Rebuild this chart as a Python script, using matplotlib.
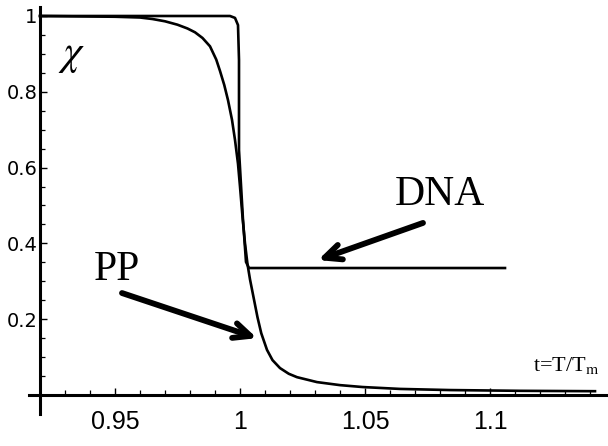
#!/usr/bin/env python3
"""
Melting curves chi(t) for DNA and PP, t = T/Tm.
"""

import matplotlib
matplotlib.use("Agg")
import matplotlib.pyplot as plt
from matplotlib.ticker import FixedLocator

# PP curve
pp_t = [0.92, 0.95, 0.96, 0.965, 0.97, 0.975, 0.979, 0.982, 0.985, 0.988,
        0.9905, 0.992, 0.9937, 0.9952, 0.9968, 0.998, 0.9992, 1.0, 1.001,
        1.002, 1.003, 1.004, 1.0055, 1.007, 1.0085, 1.0108, 1.013, 1.016,
        1.0195, 1.0228, 1.0308, 1.04, 1.049, 1.064, 1.084, 1.112, 1.142]
pp_chi = [1.0, 0.998, 0.996, 0.992, 0.986, 0.977, 0.967, 0.957, 0.942, 0.92,
          0.885, 0.855, 0.818, 0.778, 0.726, 0.673, 0.61, 0.55, 0.47,
          0.40, 0.345, 0.305, 0.255, 0.205, 0.163, 0.119, 0.092, 0.071,
          0.056, 0.047, 0.034, 0.026, 0.021, 0.016, 0.013, 0.011, 0.010]

# DNA curve: sharp drop then plateau
dna_t = [0.92, 0.996, 0.998, 0.9992, 0.9996, 0.9996, 1.0012, 1.0024, 1.0036, 1.106]
dna_chi = [1.0, 1.0, 0.995, 0.976, 0.884, 0.646, 0.462, 0.351, 0.335, 0.335]

x_ticks = [0.95, 1.0, 1.05, 1.1]
x_tick_labels = ["0.95", "1", "1.05", "1.1"]
x_minor = [0.93 + 0.01 * i for i in range(22)]
y_ticks = [0.2, 0.4, 0.6, 0.8, 1.0]
y_tick_labels = ["0.2", "0.4", "0.6", "0.8", "1"]
y_minor = [0.05 * i for i in range(1, 20)]

SERIF = "Liberation Serif"
plt.rcParams["mathtext.fontset"] = "stix"


def main():
    fig = plt.figure(figsize=(6.08, 4.46), dpi=100)
    ax = fig.add_axes([0, 0, 1, 1])

    ax.plot(pp_t, pp_chi, color="black", lw=1.9, solid_joinstyle="round")
    ax.plot(dna_t, dna_chi, color="black", lw=1.9, solid_joinstyle="round")

    ax.set_xlim(0.904, 1.1472)
    ax.set_ylim(-0.1346, 1.0422)

    # Mathematica-like crossing axes
    for side in ("top", "right"):
        ax.spines[side].set_visible(False)
    ax.spines["left"].set_position(("data", 0.92))
    ax.spines["bottom"].set_position(("data", 0.0))
    ax.spines["left"].set_bounds(-0.05, 1.025)
    ax.spines["bottom"].set_bounds(0.9156, 1.1472)
    ax.spines["left"].set_linewidth(2.2)
    ax.spines["bottom"].set_linewidth(2.2)

    ax.set_xticks(x_ticks)
    ax.set_xticklabels(x_tick_labels, fontsize=18, family="Liberation Sans")
    ax.set_yticks(y_ticks)
    ax.set_yticklabels(y_tick_labels, fontsize=14, family="DejaVu Sans")
    ax.xaxis.set_minor_locator(FixedLocator(x_minor))
    ax.yaxis.set_minor_locator(FixedLocator(y_minor))
    ax.tick_params(axis="both", which="major", direction="in", length=5, width=1.0)
    ax.tick_params(axis="both", which="minor", direction="in", length=3.5, width=0.9)
    ax.tick_params(axis="x", pad=11)
    ax.tick_params(axis="y", pad=2)

    # labels
    ax.text(0.9328, 0.90, r"$\chi$", fontsize=30, ha="center", va="center")
    ax.text(1.08, 0.528, "DNA", fontsize=30, family=SERIF, ha="center", va="center")
    ax.text(0.9508, 0.33, "PP", fontsize=30, family=SERIF, ha="center", va="center")
    ax.text(1.1304, 0.0765, r"t=T/T$_{\rm m}$", fontsize=16, family=SERIF,
            ha="center", va="center")

    arrow = dict(arrowstyle="->,head_length=1.2,head_width=0.55", lw=4.2,
                 color="black", shrinkA=0, shrinkB=0)
    ax.annotate("", xy=(1.0312, 0.356), xytext=(1.0732, 0.454), arrowprops=arrow)
    ax.annotate("", xy=(1.0068, 0.150), xytext=(0.9528, 0.269), arrowprops=arrow)

    fig.savefig("out.png", dpi=100, facecolor="white")
    plt.close(fig)


if __name__ == "__main__":
    main()
